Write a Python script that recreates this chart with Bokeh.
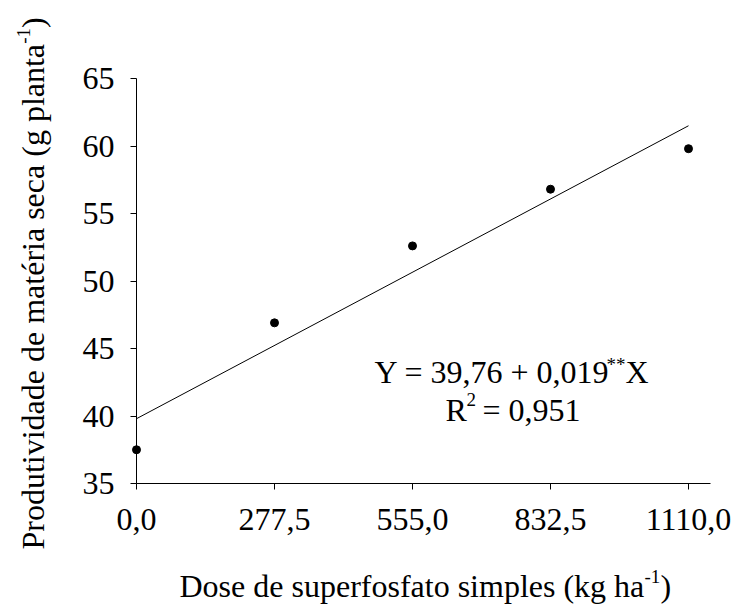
from bokeh.plotting import figure
from bokeh.models import Range1d, FixedTicker, Label
from bokeh.embed import file_html
from bokeh.resources import INLINE

# ---- data ----
dose = [0.0, 277.5, 555.0, 832.5, 1110.0]
prod = [37.5, 46.9, 52.6, 56.8, 59.8]
fit_x = [0.0, 1110.0]
fit_y = [39.8, 61.5]
x_ticks = [0.0, 277.5, 555.0, 832.5, 1110.0]
x_tick_labels = ["0,0", "277,5", "555,0", "832,5", "1110,0"]
y_ticks = [35, 40, 45, 50, 55, 60, 65]
eq_main = "Y = 39,76 + 0,019"
eq_sup = "**"
eq_tail = "X"
r2_main = "R"
r2_sup = "2"
r2_tail = "= 0,951"
xlab_main = "Dose de superfosfato simples (kg ha"
ylab_main = "Produtividade de matéria seca (g planta"
unit_sup = "-1"
close_par = ")"

# ---- layout (pixels) ----
W, H = 735, 604
L, R, T, B = 136, 710, 78, 483      # where the axes sit
Y0, Y1 = 35.0, 65.0
X_AX_END = 1110.0 * (R - L) / 552.0
SX = 552.0 / 1110.0                  # px per x unit
SY = (B - T) / (Y1 - Y0)             # px per y unit
FONT = "Liberation Serif"
BIG = 32
SMALL = 19
BASE_SHIFT = 0.34                    # label anchor vs. glyph baseline, in em

x_range = Range1d(-L / SX, (W - L) / SX)
y_range = Range1d(Y0 - (H - B) / SY, Y1 + T / SY)

p = figure(width=W, height=H, x_range=x_range, y_range=y_range,
           output_backend="svg", toolbar_location=None,
           min_border=0, min_border_left=0, min_border_right=0,
           min_border_top=0, min_border_bottom=0)
p.title.visible = False
p.outline_line_color = None
p.background_fill_color = "white"
p.border_fill_color = "white"
p.xgrid.visible = False
p.ygrid.visible = False

for ax in (p.xaxis[0], p.yaxis[0]):
    ax.axis_line_color = "black"
    ax.axis_line_width = 1
    ax.major_tick_line_color = "black"
    ax.major_tick_out = 6
    ax.major_tick_in = 0
    ax.minor_tick_line_color = None
    ax.major_label_text_font = FONT
    ax.major_label_text_font_size = f"{BIG}px"
    ax.major_label_text_color = "black"

p.xaxis.fixed_location = Y0
p.xaxis.bounds = (0, X_AX_END)
p.xaxis.major_label_standoff = 19
p.xaxis.ticker = FixedTicker(ticks=x_ticks)
p.xaxis.major_label_overrides = {t: s for t, s in zip(x_ticks, x_tick_labels)}

p.yaxis.fixed_location = 0
p.yaxis.bounds = (Y0, Y1)
p.yaxis.major_label_standoff = 16
p.yaxis.ticker = FixedTicker(ticks=y_ticks)

p.line(fit_x, fit_y, line_color="black", line_width=1)
p.scatter(dose, prod, size=8, fill_color="black", line_color="black")


def dx(px):
    return (px - L) / SX


def dy(py):
    return Y0 + (B - py) / SY


def lab(text, px, py, size=BIG, rotated=False):
    shift = BASE_SHIFT * size
    if rotated:
        px -= shift
    else:
        py -= shift
    p.add_layout(Label(x=dx(px), y=dy(py), text=text, text_font=FONT,
                       text_font_size=f"{size}px", text_color="black",
                       text_align="left", text_baseline="alphabetic",
                       angle=90 if rotated else 0, angle_units="deg"))


# equation
lab(eq_main, 374, 382)
lab(eq_sup, 606, 370, SMALL)
lab(eq_tail, 625, 382)
lab(r2_main, 445, 420)
lab(r2_sup, 466, 405, SMALL)
lab(r2_tail, 482, 420)

# x axis title
lab(xlab_main, 179, 596)
lab(unit_sup, 644, 582, SMALL)
lab(close_par, 660, 596)

# y axis title (rotated)
y_start = 549
lab(ylab_main, 43, y_start, rotated=True)
lab(unit_sup, 43 - 14, y_start - 505.7, SMALL, rotated=True)
lab(close_par, 43, y_start - 505.7 - 15.8, rotated=True)

open("out.html", "w").write(file_html(p, INLINE))
